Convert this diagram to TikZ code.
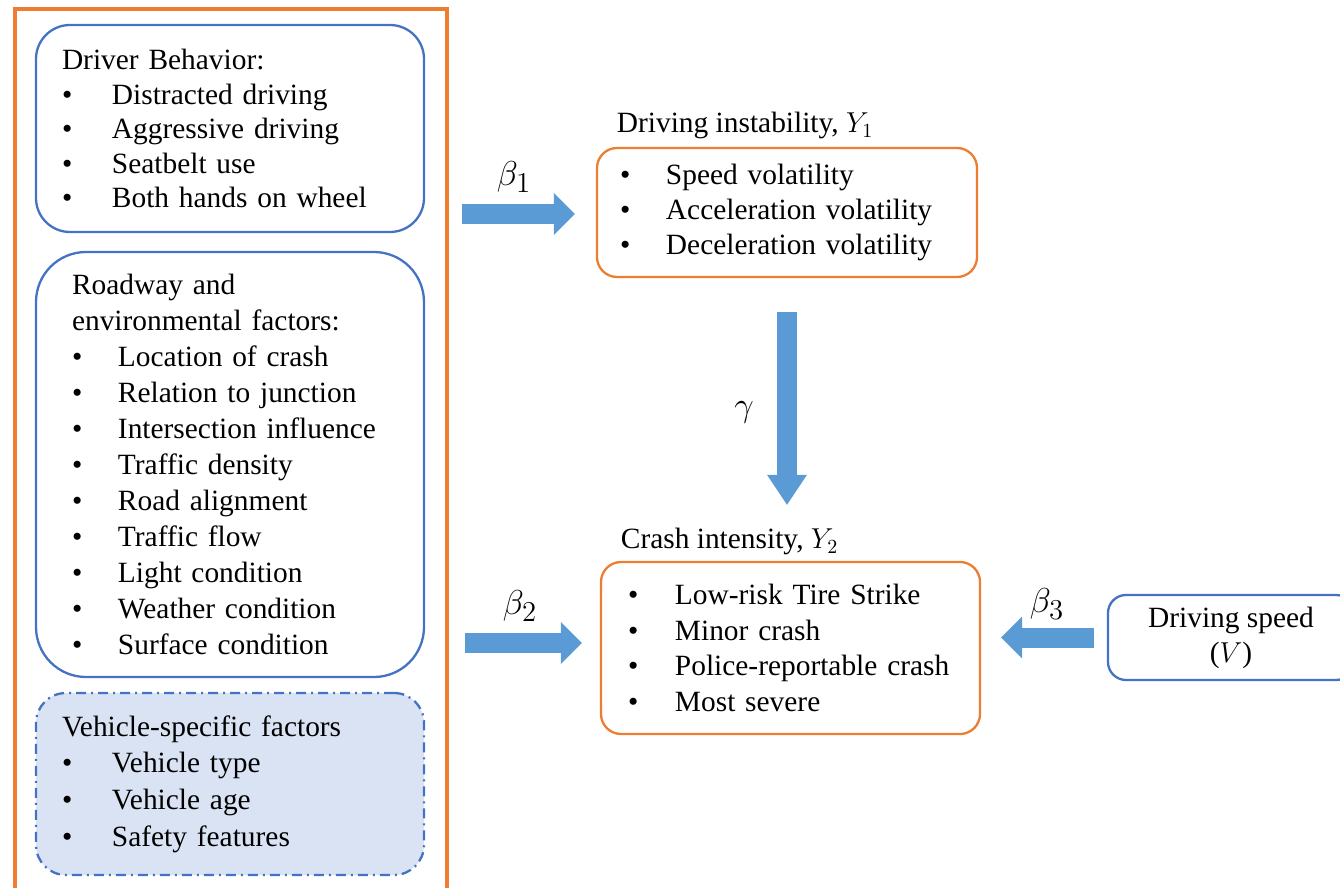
\documentclass[tikz,border=0pt]{standalone}
\usepackage{fontspec}
\setmainfont{Liberation Serif}
\usetikzlibrary{arrows.meta,positioning}
\definecolor{frameorange}{HTML}{ED7D31}
\definecolor{frameblue}{HTML}{4472C4}
\definecolor{arrowblue}{HTML}{5B9BD5}
\definecolor{vehiclefill}{HTML}{DAE3F3}
\newcommand{\bitem}[2][25pt]{\makebox[#1][l]{\textbullet}#2}
\tikzset{
  every node/.style={font=\fontsize{14.7}{17.5}\selectfont},
  factorbox/.style={draw=frameblue, line width=1.15pt, align=left, inner ysep=0pt},
  outcomebox/.style={draw=frameorange, line width=1.15pt, rounded corners=10pt, align=left, inner ysep=0pt},
  blockarrow/.style={draw=arrowblue, line width=10pt, -{Triangle[length=10.5pt,width=21pt,line width=0pt]}},
  coef/.style={font=\fontsize{19}{22}\selectfont},
}
\begin{document}
\begin{tikzpicture}[x=0.5pt, y=-0.5pt]
    \useasboundingbox (0,0) rectangle (1340,888);
    % frame round the factors
    \draw[frameorange, line width=1.75pt] (15,930) -- (15,9) -- (447,9) -- (447,930);
    \node[factorbox, rounded corners=17pt, inner xsep=13pt, text width=168pt, minimum height=103.5pt,
          font=\fontsize{14.7}{17.25}\selectfont] (drv) at (230,128.5)
        {Driver Behavior:\\ \bitem{Distracted driving}\\ \bitem{Aggressive driving}\\
         \bitem{Seatbelt use}\\ \bitem{Both hands on wheel}};
    \node[factorbox, rounded corners=25pt, inner xsep=18pt, text width=158pt, minimum height=212.5pt,
          font=\fontsize{14.7}{18}\selectfont] (road) at (230,464.5)
        {Roadway and\\ environmental factors:\\ \bitem[23pt]{Location of crash}\\
         \bitem[23pt]{Relation to junction}\\ \bitem[23pt]{Intersection influence}\\
         \bitem[23pt]{Traffic density}\\ \bitem[23pt]{Road alignment}\\ \bitem[23pt]{Traffic flow}\\
         \bitem[23pt]{Light condition}\\ \bitem[23pt]{Weather condition}\\ \bitem[23pt]{Surface condition}};
    \node[factorbox, fill=vehiclefill, dash pattern=on 5pt off 2.5pt on 1pt off 2.5pt, rounded corners=15pt,
          inner xsep=13pt, text width=168pt, minimum height=91pt,
          font=\fontsize{14.7}{18.3}\selectfont] (veh) at (230,784)
        {Vehicle-specific factors\\ \bitem{Vehicle type}\\ \bitem{Vehicle age}\\ \bitem{Safety features}};
    % outcomes
    \node[outcomebox, inner xsep=11.5pt, text width=167pt, minimum height=64.5pt] (inst) at (787,212.5)
        {\bitem[23pt]{Speed volatility}\\ \bitem[23pt]{Acceleration volatility}\\ \bitem[23pt]{Deceleration volatility}};
    \node[outcomebox, inner xsep=13.5pt, text width=162.5pt, minimum height=86pt,
          font=\fontsize{14.7}{17.75}\selectfont] (crash) at (790.5,648)
        {\bitem[23.5pt]{Low-risk Tire Strike}\\ \bitem[23.5pt]{Minor crash}\\
         \bitem[23.5pt]{Police-reportable crash}\\ \bitem[23.5pt]{Most severe}};
    \node[anchor=base west] (linst) at ([xshift=7pt, yshift=7pt]inst.north west) {Driving instability, $Y_1$};
    \node[anchor=base west] (lcrash) at ([xshift=7pt, yshift=6pt]crash.north west) {Crash intensity, $Y_2$};
    \node[draw=frameblue, line width=1.15pt, rounded corners=9pt, align=center, minimum width=123pt,
          minimum height=42.5pt, inner sep=0pt] (spd) at (1231,637.5) {Driving speed\\($V$)};
    % arrows
    \coordinate (b1s) at (462,214);
    \coordinate (b2s) at (465,643);
    \draw[blockarrow, shorten >=10.5pt] (b1s) -- (b1s -| inst.west);
    \draw[blockarrow, shorten >=9pt] (b2s) -- (b2s -| crash.west);
    \draw[blockarrow, shorten <=6.5pt, shorten >=10pt] (spd.west) -- (spd.west -| crash.east);
    \draw[blockarrow, -{Triangle[length=15pt,width=20pt,line width=0pt]}, shorten <=17pt, shorten >=28pt]
        (inst.south) -- (inst.south |- crash.north);
    \node[coef] (lb1) at (514,177) {$\beta_1$};
    \node[coef] (lb2) at (520,606) {$\beta_2$};
    \node[coef] (lb3) at (1047,604) {$\beta_3$};
    \node[coef] (lgam) at (744,412) {$\gamma$};
\end{tikzpicture}
\end{document}
